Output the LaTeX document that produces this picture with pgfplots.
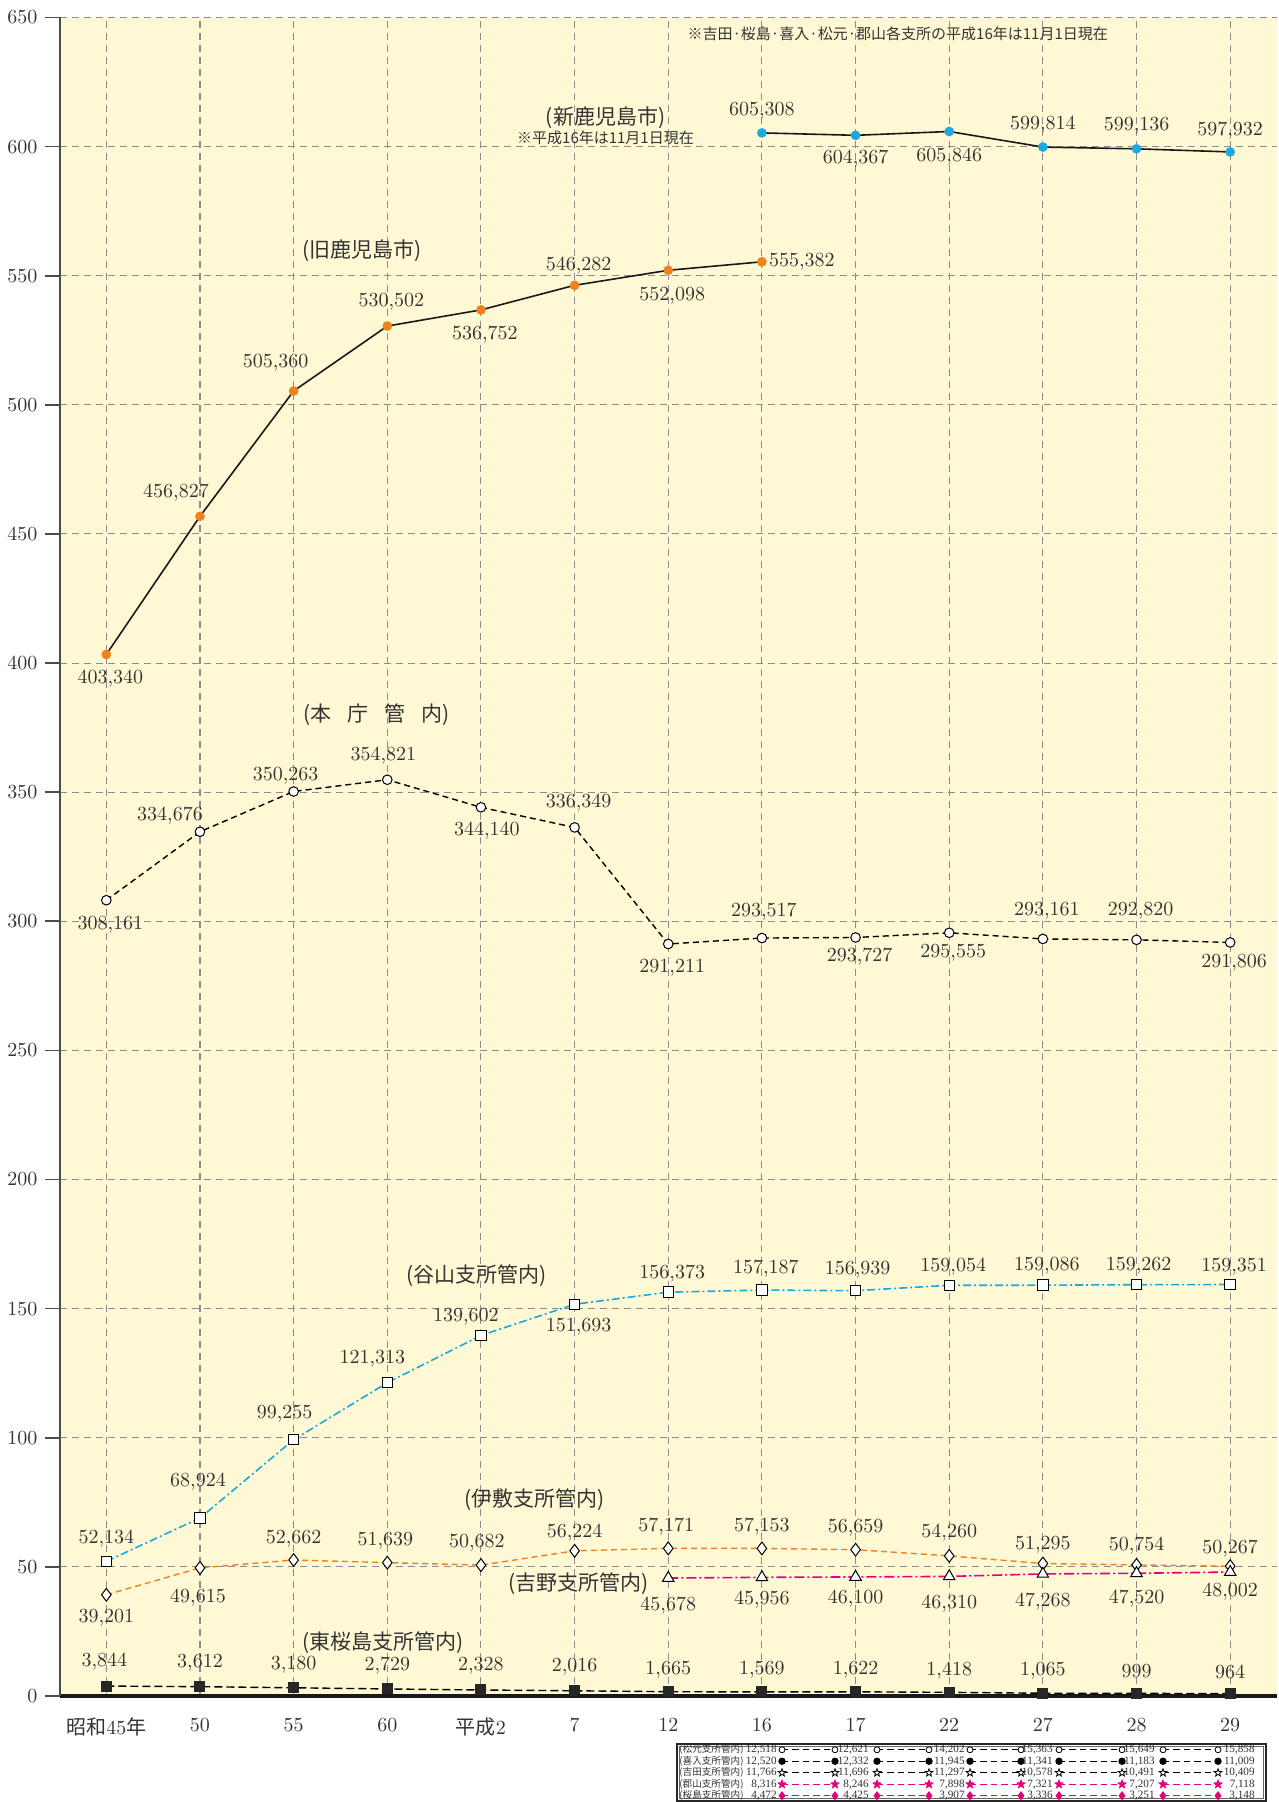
\documentclass[border=0pt]{standalone}
\usepackage{pgfplots}
\pgfplotsset{compat=1.18}
\usepackage{pgfplotstable}
\usepackage{fontspec}
\newfontfamily\cjk{Noto Sans CJK JP}
\newfontfamily\smallnum{Liberation Serif}

\definecolor{bgy}{HTML}{FFF8D4}
\definecolor{gridc}{HTML}{8C8C8C}
\definecolor{orng}{HTML}{F0821E}
\definecolor{cyn}{HTML}{1EA8E0}
\definecolor{mgt}{HTML}{E6007E}
\definecolor{txt}{HTML}{333333}

% filled five-pointed star
\pgfdeclareplotmark{fstar}{%
  \pgfpathmoveto{\pgfpointpolar{90}{\pgfplotmarksize}}%
  \pgfpathlineto{\pgfpointpolar{126}{0.42\pgfplotmarksize}}%
  \pgfpathlineto{\pgfpointpolar{162}{\pgfplotmarksize}}%
  \pgfpathlineto{\pgfpointpolar{198}{0.42\pgfplotmarksize}}%
  \pgfpathlineto{\pgfpointpolar{234}{\pgfplotmarksize}}%
  \pgfpathlineto{\pgfpointpolar{270}{0.42\pgfplotmarksize}}%
  \pgfpathlineto{\pgfpointpolar{306}{\pgfplotmarksize}}%
  \pgfpathlineto{\pgfpointpolar{342}{0.42\pgfplotmarksize}}%
  \pgfpathlineto{\pgfpointpolar{18}{\pgfplotmarksize}}%
  \pgfpathlineto{\pgfpointpolar{54}{0.42\pgfplotmarksize}}%
  \pgfpathclose
  \pgfusepathqfillstroke}

\pgfplotsset{
  lbl/.style={nodes near coords, point meta=explicit symbolic,
    visualization depends on={\thisrow{dx} \as \myx},
    visualization depends on={\thisrow{dy} \as \myy},
    every node near coord/.append style={anchor=center, xshift=\myx pt, yshift=\myy pt,
      font=\fontsize{10}{12}\selectfont, text=txt, inner sep=0pt}},
  wmark/.style={mark options={solid, fill=white, draw=black, line width=0.5pt}},
}
\tikzset{
  rowlab/.style={anchor=west, inner sep=0pt, font=\cjk\fontsize{4.8}{6}\selectfont, text=txt},
  serlab/.style={font=\cjk\fontsize{10.5}{12}\selectfont, text=txt},
}

% values in thousands of persons
\pgfplotstableread{
x y lab dx dy
7 605.308 605,308 0 11
8 604.367 604,367 0 -11.5
9 605.846 605,846 0 -12.5
10 599.814 599,814 0 11
11 599.136 599,136 0 11.5
12 597.932 597,932 0 10.5
}\shin
\pgfplotstableread{
x y lab dx dy
0 403.340 403,340 2 -12
1 456.827 456,827 -12 12
2 505.360 505,360 -9 14
3 530.502 530,502 2 12
4 536.752 536,752 2 -12.5
5 546.282 546,282 2 10
6 552.098 552,098 2 -12.5
7 555.382 555,382 20 0
}\kyu
\pgfplotstableread{
x y lab dx dy
0 308.161 308,161 2 -12.5
1 334.676 334,676 -15 8
2 350.263 350,263 -4 8
3 354.821 354,821 -2 12
4 344.140 344,140 3 -11.5
5 336.349 336,349 2 12.5
6 291.211 291,211 2 -12
7 293.517 293,517 1 13
8 293.727 293,727 2 -9.5
9 295.555 295,555 2 -10
10 293.161 293,161 2 14
11 292.820 292,820 2 14.5
12 291.806 291,806 2 -10
}\honcho
\pgfplotstableread{
x y lab dx dy
0 52.134 52,134 0 11.5
1 68.924 68,924 -1 18
2 99.255 99,255 -4.5 13
3 121.313 121,313 -7.5 12
4 139.602 139,602 -7.5 9.5
5 151.693 151,693 2 -11
6 156.373 156,373 2 9.5
7 157.187 157,187 2 10.5
8 156.939 156,939 1 10.5
9 159.054 159,054 2 9.5
10 159.086 159,086 2 9.5
11 159.262 159,262 1 9.5
12 159.351 159,351 2 9
}\taniyama
\pgfplotstableread{
x y lab dx dy
0 39.201 39,201 0 -11.5
1 49.615 49,615 -1 -15
2 52.662 52,662 0 10.5
3 51.639 51,639 -1 11
4 50.682 50,682 -2 11
5 56.224 56,224 0 9
6 57.171 57,171 -1 11
7 57.153 57,153 0 11
8 56.659 56,659 0 11
9 54.260 54,260 0 11.5
10 51.295 51,295 0 9.5
11 50.754 50,754 0 9.5
12 50.267 50,267 0 9
}\ishiki
\pgfplotstableread{
x y lab dx dy
6 45.678 45,678 0 -14
7 45.956 45,956 0 -11
8 46.100 46,100 0 -11
9 46.310 46,310 0 -13.5
10 47.268 47,268 0 -14
11 47.520 47,520 0 -12.5
12 48.002 48,002 0 -10
}\yoshino
\pgfplotstableread{
x y lab dx dy
0 3.844 3,844 -1 12
1 3.612 3,612 0 12
2 3.180 3,180 0 11.5
3 2.729 2,729 0 11.5
4 2.328 2,328 0 12
5 2.016 2,016 0 12
6 1.665 1,665 0 11
7 1.569 1,569 0 11
8 1.622 1,622 0 11
9 1.418 1,418 0 11
10 1.065 1,065 0 11
11 0.999 999 0 11
12 0.964 964 0 11
}\higashi

% inset: branch offices, years 16 17 22 27 28 29 (x = label right edge)
\pgfplotstableread{
x y lab
777 5 12,518
869 5 12,621
965 5 14,202
1053 5 15,363
1155 5 15,649
1255 5 15,858
777 4 12,520
869 4 12,332
965 4 11,945
1053 4 11,341
1155 4 11,183
1255 4 11,009
777 3 11,766
869 3 11,696
965 3 11,297
1053 3 10,578
1155 3 10,491
1255 3 10,409
777 2 8,316
869 2 8,246
965 2 7,898
1053 2 7,321
1155 2 7,207
1255 2 7,118
777 1 4,472
869 1 4,425
965 1 3,907
1053 1 3,336
1155 1 3,251
1255 1 3,148
}\insetvals

\begin{document}
\begin{tikzpicture}
\begin{axis}[
  name=main, at={(0,0)}, anchor=south west,
  scale only axis, width=608.75pt, height=839.25pt,
  xmin=-0.5, xmax=12.5, ymin=0, ymax=650,
  xtick={0,...,12},
  xticklabels={{\cjk 昭和}45{\cjk 年},50,55,60,{\cjk 平成}2,7,12,16,17,22,27,28,29},
  ytick={0,50,...,650},
  axis lines=left,
  axis line style={-},
  x axis line style={line width=1.6pt, draw=black!90},
  y axis line style={line width=1pt, draw=black!70},
  grid=major,
  major grid style={dash pattern=on 3.5pt off 2.5pt, gridc, line width=0.55pt},
  tick align=outside, major tick length=7.5pt,
  y tick style={black!70, line width=0.8pt},
  x tick style={draw=none},
  tick label style={font=\fontsize{10}{12}\selectfont, text=txt},
  axis background/.style={fill=bgy},
  clip=false,
]
\addplot[black, line width=0.7pt, dash pattern=on 4pt off 2pt, mark=square*, mark size=2.4pt,
  mark options={solid, fill=black!85, draw=black!85}, lbl] table[x=x,y=y,meta=lab]{\higashi};
\addplot[orng, line width=0.7pt, dash pattern=on 3pt off 2pt, mark=diamond*, mark size=3.2pt, wmark, lbl]
  table[x=x,y=y,meta=lab]{\ishiki};
\addplot[mgt, line width=0.8pt, dash pattern=on 5pt off 1.5pt on 1pt off 1.5pt, mark=triangle*, mark size=3.3pt, wmark, lbl]
  table[x=x,y=y,meta=lab]{\yoshino};
\addplot[cyn, line width=0.8pt, dash pattern=on 4pt off 1.5pt on 1pt off 1.5pt, mark=square*, mark size=2.6pt, wmark, lbl]
  table[x=x,y=y,meta=lab]{\taniyama};
\addplot[black, line width=0.7pt, dash pattern=on 3pt off 2pt, mark=*, mark size=2.4pt, wmark, lbl]
  table[x=x,y=y,meta=lab]{\honcho};
\addplot[black!90, line width=0.8pt, mark=*, mark size=2pt, mark options={fill=orng, draw=orng}, lbl]
  table[x=x,y=y,meta=lab]{\kyu};
\addplot[black!90, line width=0.8pt, mark=*, mark size=2pt, mark options={fill=cyn, draw=cyn}, lbl]
  table[x=x,y=y,meta=lab]{\shin};

\node[serlab] at (axis cs:5.33,611.3) {(新鹿児島市)};
\node[font=\cjk\fontsize{7.5}{9}\selectfont, text=txt] at (axis cs:5.33,603.3) {※平成16年は11月1日現在};
\node[serlab] at (axis cs:2.73,559.7) {(旧鹿児島市)};
\node[serlab] at (axis cs:2.89,380) {(本\hspace{8pt}庁\hspace{8pt}管\hspace{8pt}内)};
\node[serlab] at (axis cs:3.95,162.8) {(谷山支所管内)};
\node[serlab] at (axis cs:4.57,76.1) {(伊敷支所管内)};
\node[serlab] at (axis cs:5.04,43.6) {(吉野支所管内)};
\node[serlab] at (axis cs:2.95,20.5) {(東桜島支所管内)};
\node[font=\cjk\fontsize{7.5}{9}\selectfont, text=txt] at (axis cs:8.45,643.8) {※吉田·桜島·喜入·松元·郡山各支所の平成16年は11月1日現在};
\end{axis}

\begin{axis}[
  name=inset, at={(308.75pt,-52.75pt)}, anchor=south west,
  scale only axis, width=294.5pt, height=28.75pt,
  xmin=677, xmax=1266, ymin=0.5, ymax=5.5,
  xtick=\empty, ytick=\empty,
  axis line style={line width=1.1pt, draw=black!85},
  unbounded coords=jump, clip=false,
  axis background/.style={fill=white},
]
\draw[line width=0.35pt, black!60] ([shift={(1.4pt,1.4pt)}]rel axis cs:0,0) rectangle ([shift={(-1.4pt,-1.4pt)}]rel axis cs:1,1);
\addplot[black, line width=0.45pt, dash pattern=on 3.2pt off 2pt, mark=*, mark size=1.5pt,
  mark options={solid, fill=white, draw=black, line width=0.4pt}]
  coordinates {(782,5) (835,5) (850,nan) (877,5) (929,5) (950,nan) (970,5) (1021,5) (1040,nan) (1059,5) (1122,5) (1140,nan) (1163,5) (1218,5)};
\addplot[black, line width=0.45pt, dash pattern=on 3.2pt off 2pt, mark=*, mark size=1.6pt,
  mark options={solid, fill=black, draw=black}]
  coordinates {(782,4) (835,4) (850,nan) (877,4) (929,4) (950,nan) (970,4) (1021,4) (1040,nan) (1059,4) (1122,4) (1140,nan) (1163,4) (1218,4)};
\addplot[black, line width=0.45pt, dash pattern=on 3.2pt off 2pt, mark=fstar, mark size=2pt,
  mark options={solid, fill=white, draw=black, line width=0.4pt}]
  coordinates {(782,3) (835,3) (850,nan) (877,3) (929,3) (950,nan) (970,3) (1021,3) (1040,nan) (1059,3) (1122,3) (1140,nan) (1163,3) (1218,3)};
\addplot[mgt, line width=0.5pt, dash pattern=on 3.2pt off 2pt, mark=fstar, mark size=2pt,
  mark options={solid, fill=mgt, draw=mgt}]
  coordinates {(782,2) (835,2) (850,nan) (877,2) (929,2) (950,nan) (970,2) (1021,2) (1040,nan) (1059,2) (1122,2) (1140,nan) (1163,2) (1218,2)};
\addplot[mgt, line width=0.5pt, dash pattern=on 3.2pt off 2pt, mark=diamond*, mark size=1.9pt,
  mark options={solid, fill=mgt, draw=mgt}]
  coordinates {(782,1) (835,1) (850,nan) (877,1) (929,1) (950,nan) (970,1) (1021,1) (1040,nan) (1059,1) (1122,1) (1140,nan) (1163,1) (1218,1)};
\addplot[only marks, mark=*, mark size=0pt, mark options={draw=none, fill=none},
  nodes near coords, point meta=explicit symbolic,
  every node near coord/.append style={anchor=east, inner sep=0pt, font=\smallnum\fontsize{5.6}{6}\selectfont, text=txt}]
  table[x=x,y=y,meta=lab]{\insetvals};
\node[rowlab] at (axis cs:679,5) {(松元支所管内)};
\node[rowlab] at (axis cs:679,4) {(喜入支所管内)};
\node[rowlab] at (axis cs:679,3) {(吉田支所管内)};
\node[rowlab] at (axis cs:679,2) {(郡山支所管内)};
\node[rowlab] at (axis cs:679,1) {(桜島支所管内)};
\end{axis}
\pgfresetboundingbox
\path[use as bounding box] (-29.75pt,-53pt) rectangle (609.25pt,848pt);
\end{tikzpicture}
\end{document}
